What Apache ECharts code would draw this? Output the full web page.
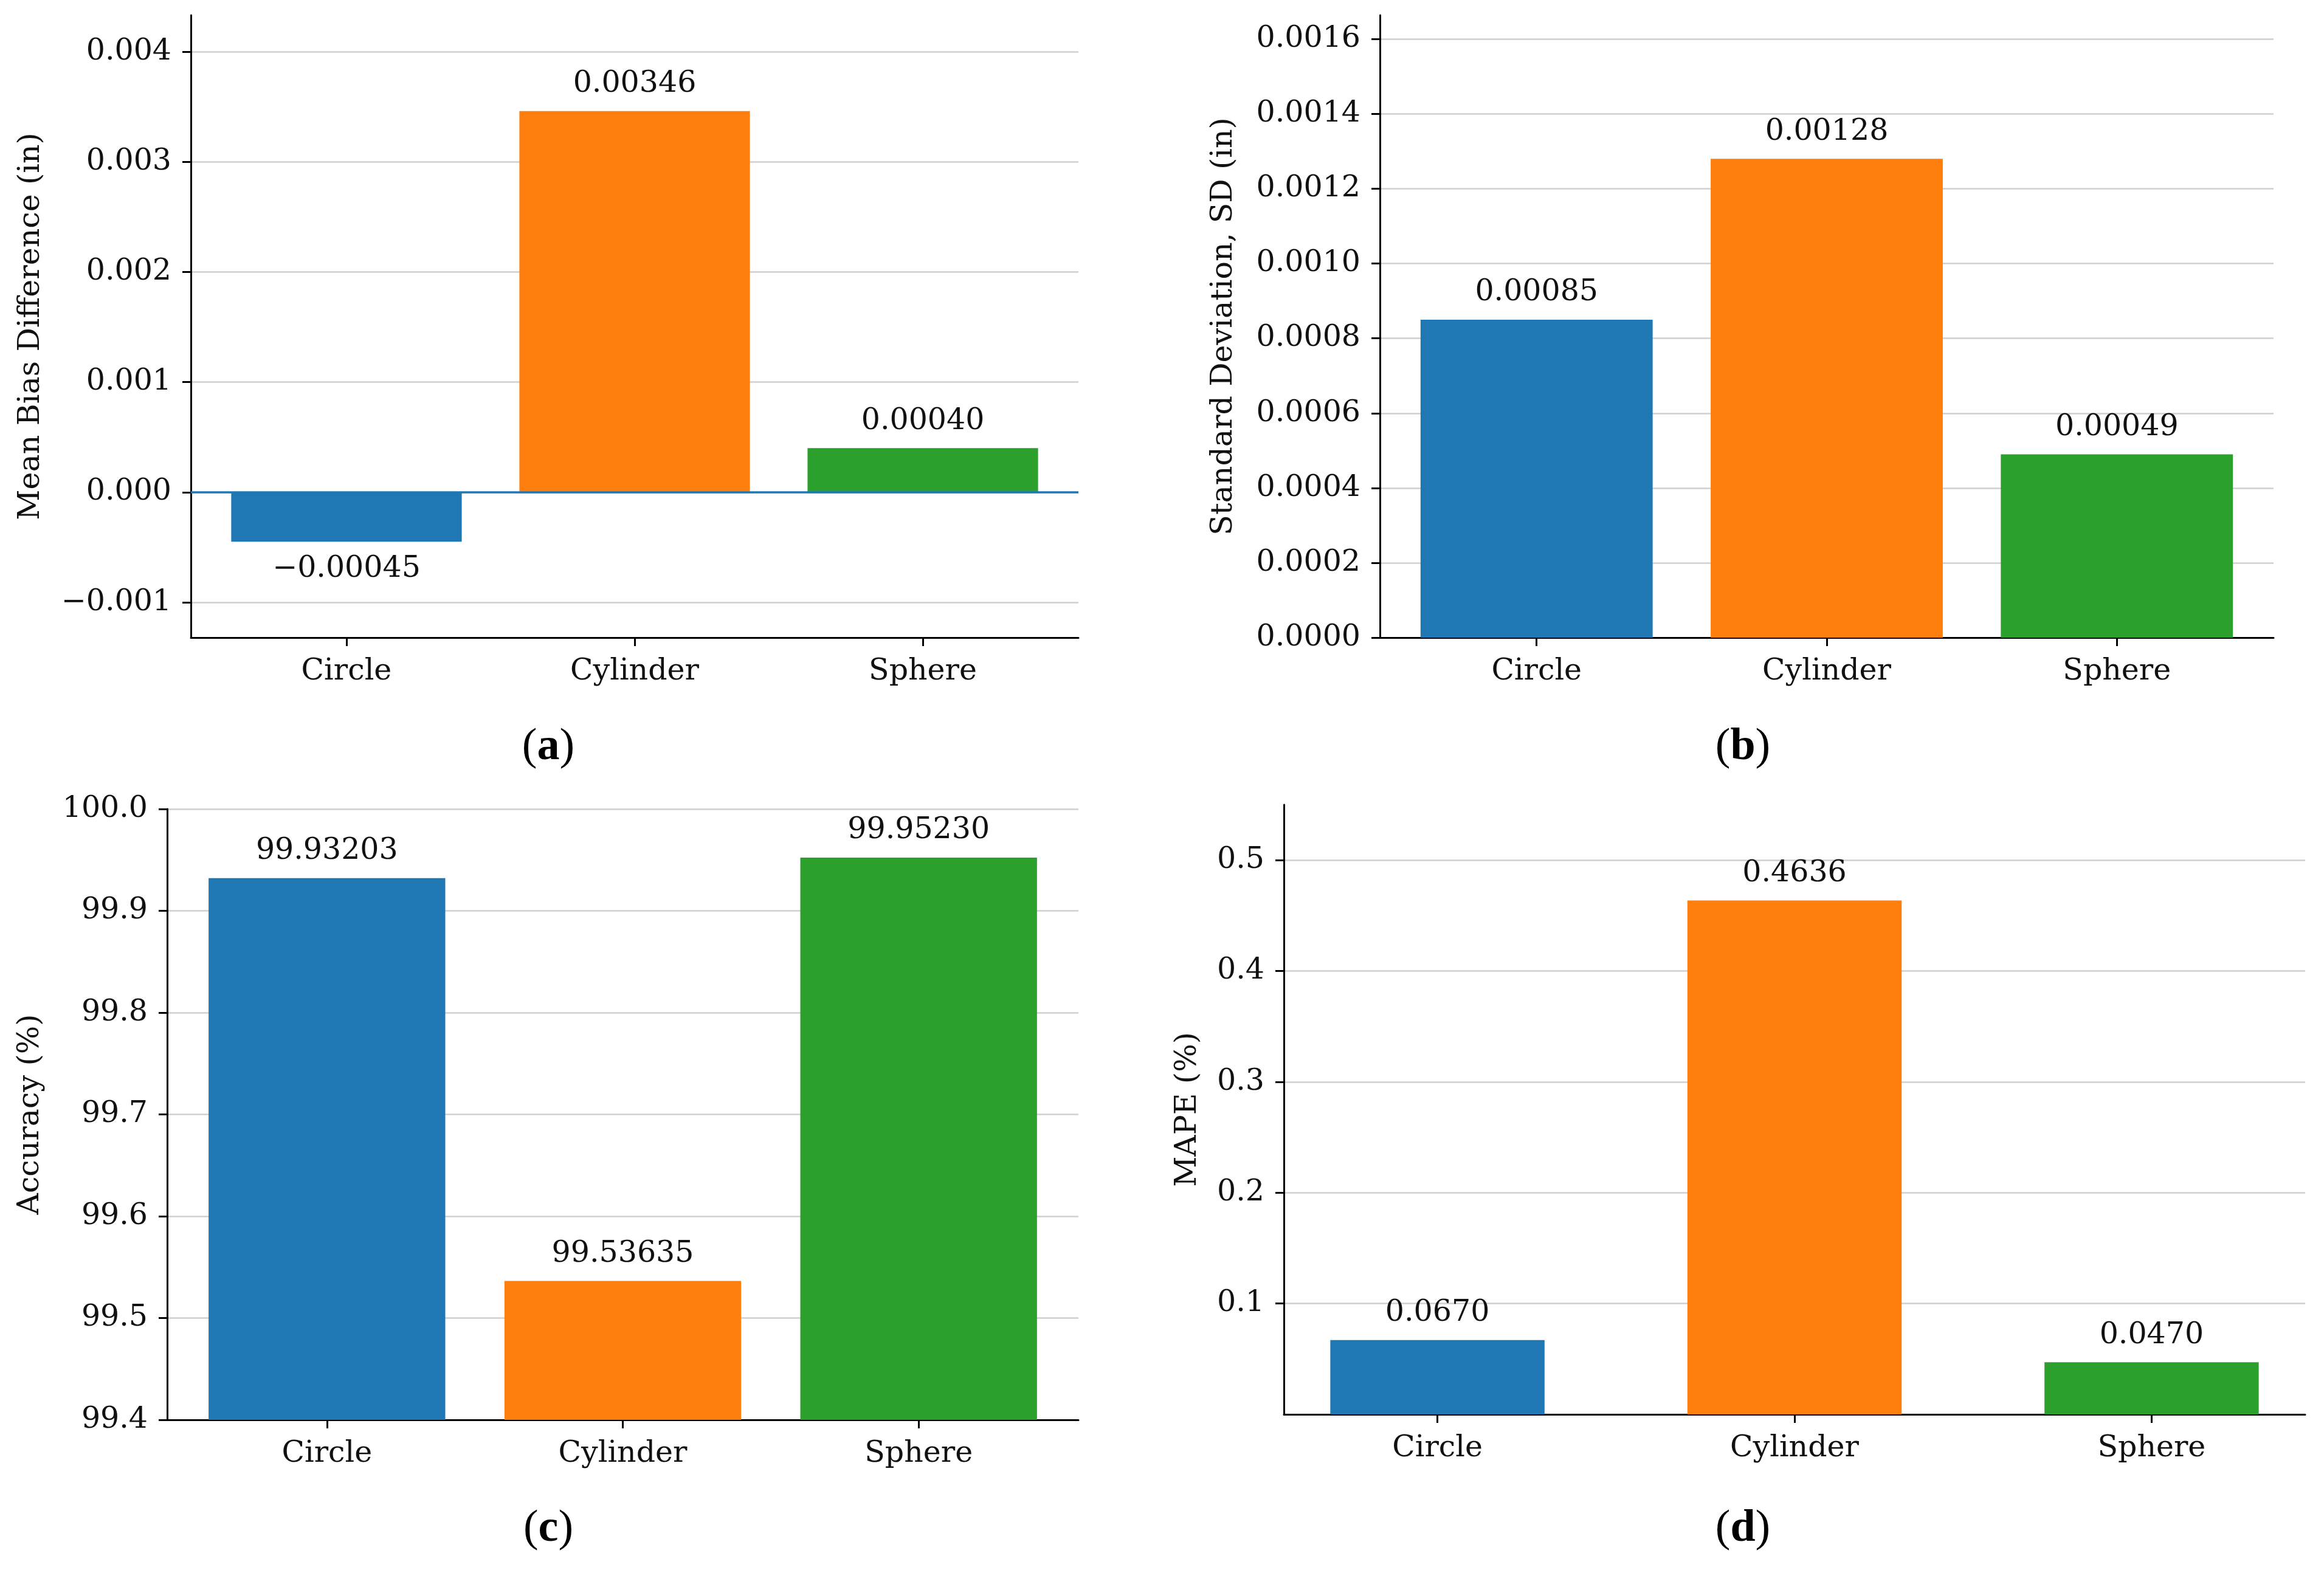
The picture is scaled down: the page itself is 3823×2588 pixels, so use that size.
<!DOCTYPE html>
<html lang="en">
<head>
<meta charset="UTF-8">
<title>Measurement comparison</title>
<script src="https://cdn.jsdelivr.net/npm/echarts@6/dist/echarts.min.js"></script>
<style>html, body { margin: 0; padding: 0; background: #fff; }</style>
</head>
<body>
<div id="main" style="width: 3823px; height: 2588px;"></div>
<script type="text/javascript">
// data
var categories = ['Circle', 'Cylinder', 'Sphere'];
var meanBias = [-0.00045, 0.00346, 0.00040];
var stdDev = [0.00085, 0.00128, 0.00049];
var accuracy = [99.93203, 99.53635, 99.95230];
var mape = [0.0670, 0.4636, 0.0470];

// tick labels
var biasTicks = [-0.001, 0.000, 0.001, 0.002, 0.003, 0.004];
var sdTicks = [0.0000, 0.0002, 0.0004, 0.0006, 0.0008, 0.0010, 0.0012, 0.0014, 0.0016];
var accTicks = [99.4, 99.5, 99.6, 99.7, 99.8, 99.9, 100.0];
var mapeTicks = [0.1, 0.2, 0.3, 0.4, 0.5];

var colors = ['#1f77b4', '#ff7f0e', '#2ca02c'];
var FONT = 'DejaVu Serif';
var FS = 49;

function fmt(v, d) {
    return v.toFixed(d).replace('-', '\u2212');
}

// one entry per subplot
var panels = [
    { name: 'Mean Bias Difference (in)', values: meanBias, ticks: biasTicks, tickDec: 3, labDec: 5,
      ymin: -0.00132, ymax: 0.00433, xpad: 0.54, barW: '80%', gap: 238,
      grid: { left: 314, top: 25, width: 1460, height: 1024 }, letter: 'a', lx: 902, ly: 1230 },
    { name: 'Standard Deviation, SD (in)', values: stdDev, ticks: sdTicks, tickDec: 4, labDec: 5,
      ymin: 0, ymax: 0.001664, xpad: 0.54, barW: '80%', gap: 232,
      grid: { left: 2270, top: 25, width: 1470, height: 1024 }, letter: 'b', lx: 2867, ly: 1230 },
    { name: 'Accuracy (%)', values: accuracy, ticks: accTicks, tickDec: 1, labDec: 5,
      ymin: 99.4, ymax: 100.0, xpad: 0.54, barW: '80%', gap: 200,
      grid: { left: 275, top: 1331, width: 1499, height: 1005 }, letter: 'c', lx: 902, ly: 2516 },
    { name: 'MAPE (%)', values: mape, ticks: mapeTicks, tickDec: 1, labDec: 4,
      ymin: 0, ymax: 0.55, xpad: 0.43, barW: '60%', gap: 133,
      grid: { left: 2112, top: 1324, width: 1680, height: 1003 }, letter: 'd', lx: 2867, ly: 2516 }
];

var grids = [], xAxes = [], yAxes = [], series = [], graphics = [];
var catIdx = categories.map(function (c, i) { return i; });

panels.forEach(function (p, k) {
    grids.push(p.grid);
    xAxes.push({
        type: 'value', gridIndex: k, min: -p.xpad, max: 2 + p.xpad,
        axisLine: { onZero: false, lineStyle: { color: '#000', width: 3 } },
        axisTick: { customValues: catIdx, length: 14, lineStyle: { color: '#000', width: 3 } },
        axisLabel: {
            customValues: catIdx, margin: 32, color: '#111', fontFamily: FONT, fontSize: FS,
            formatter: function (v) { return categories[Math.round(v)]; }
        },
        splitLine: { show: false }
    });
    yAxes.push({
        type: 'value', gridIndex: k, min: p.ymin, max: p.ymax,
        name: p.name, nameLocation: 'middle', nameGap: p.gap,
        nameTextStyle: { color: '#111', fontFamily: FONT, fontSize: FS },
        axisLine: { show: true, onZero: false, lineStyle: { color: '#000', width: 3 } },
        axisTick: { show: true, customValues: p.ticks, length: 14, lineStyle: { color: '#000', width: 3 } },
        axisLabel: {
            customValues: p.ticks, margin: 32, color: '#111', fontFamily: FONT, fontSize: FS,
            formatter: (function (d) { return function (v) { return fmt(v, d); }; })(p.tickDec)
        },
        splitLine: { show: true, lineStyle: { color: '#cfcfcf', width: 2.5 } }
    });
    var s = {
        type: 'bar', xAxisIndex: k, yAxisIndex: k, barWidth: p.barW, clip: true,
        data: p.values.map(function (v, i) {
            return {
                value: [i, v],
                itemStyle: { color: colors[i] },
                label: { position: v < 0 ? 'bottom' : 'top' }
            };
        }),
        label: {
            show: true, distance: 20, color: '#111', fontFamily: FONT, fontSize: FS,
            formatter: (function (d) { return function (prm) { return fmt(prm.value[1], d); }; })(p.labDec)
        },
        silent: true
    };
    if (k === 0) {
        // horizontal reference line at zero
        s.markLine = {
            silent: true, symbol: 'none', label: { show: false },
            lineStyle: { color: '#1f77b4', width: 3.5, type: 'solid' },
            data: [{ yAxis: 0 }]
        };
    }
    series.push(s);
    graphics.push({
        type: 'text', x: p.lx, y: p.ly,
        style: {
            text: '{p|(}{b|' + p.letter + '}{p|)}',
            align: 'center', verticalAlign: 'middle',
            rich: {
                p: { fontFamily: 'Liberation Serif', fontSize: 74, fill: '#000' },
                b: { fontFamily: 'Liberation Serif', fontSize: 74, fontWeight: 'bold', fill: '#000' }
            }
        }
    });
});

var myChart = echarts.init(document.getElementById('main'));
var option = {
    backgroundColor: '#fff',
    animation: false,
    grid: grids,
    xAxis: xAxes,
    yAxis: yAxes,
    series: series,
    graphic: graphics
};
myChart.setOption(option);
</script>
</body>
</html>
